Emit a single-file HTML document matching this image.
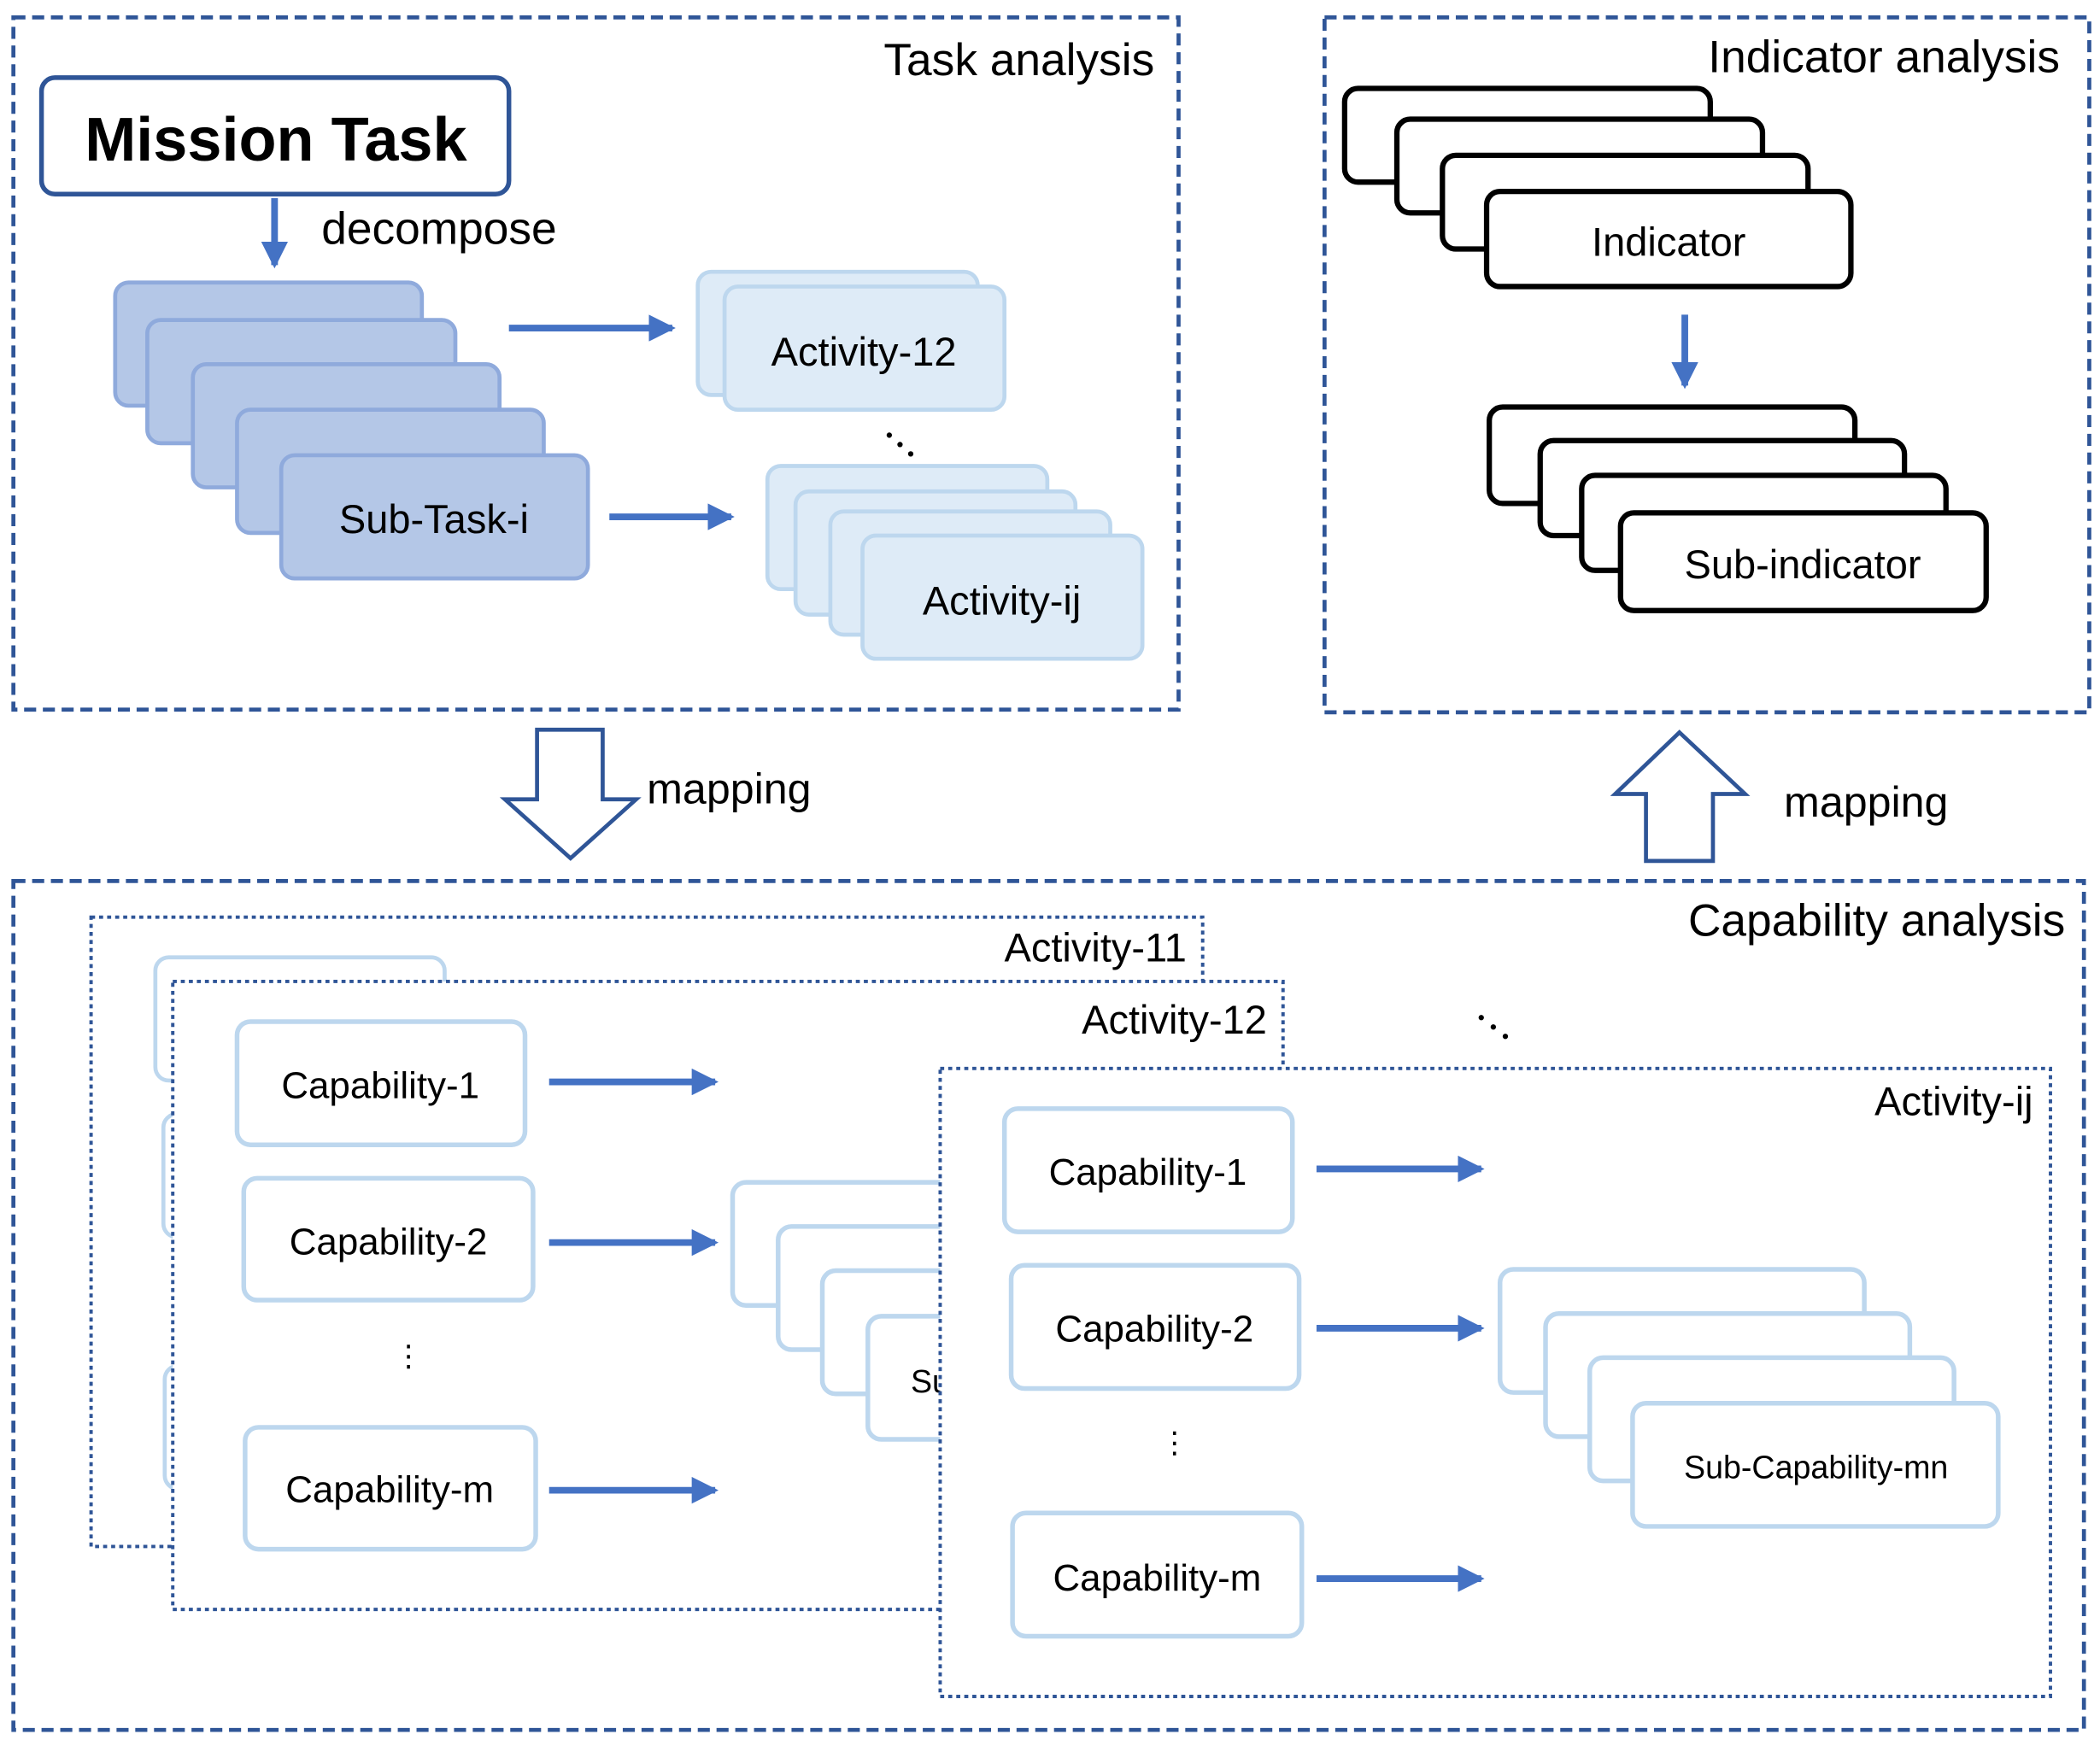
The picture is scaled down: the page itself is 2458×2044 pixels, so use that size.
<!DOCTYPE html>
<html><head><meta charset="utf-8"><style>
html,body{margin:0;padding:0;background:#fff;}
svg{display:block;}
text{font-family:"Liberation Sans","DejaVu Sans",sans-serif;}
</style></head><body>
<svg width="2458" height="2044" viewBox="0 0 1568 1304" preserveAspectRatio="none" xmlns="http://www.w3.org/2000/svg">
<defs>
<marker id="ah" markerWidth="4" markerHeight="4" refX="3.5" refY="2" orient="auto" markerUnits="strokeWidth">
<path d="M0,0 L4,2 L0,4 z" fill="#4472C4"/></marker>
</defs>
<g fill="none" stroke="#2F5597" stroke-width="3" stroke-dasharray="9,5">
<rect x="10" y="13" width="870" height="517"/>
<rect x="989" y="13" width="571" height="519"/>
<rect x="10" y="658" width="1546" height="634"/>
</g>
<g font-size="34" fill="#000" text-anchor="end">
<text x="862" y="56">Task analysis</text>
<text x="1538" y="54">Indicator analysis</text>
<text x="1542" y="699">Capability analysis</text>
</g>
<rect x="31" y="58" width="349" height="87" rx="10" fill="#fff" stroke="#2F5597" stroke-width="3.5"/>
<text x="206" y="120" font-size="46" font-weight="bold" text-anchor="middle">Mission Task</text>
<line x1="205" y1="148" x2="205" y2="198" stroke="#4472C4" stroke-width="5" marker-end="url(#ah)"/>
<text x="240" y="182" font-size="34">decompose</text>
<g fill="#B4C7E7" stroke="#8FAADC" stroke-width="3">
<rect x="86" y="211" width="229" height="92" rx="10"/>
<rect x="110" y="239" width="230" height="92" rx="10"/>
<rect x="144" y="272" width="229" height="92" rx="10"/>
<rect x="177" y="306" width="229" height="92" rx="10"/>
<rect x="210" y="340" width="229" height="92" rx="10"/>
</g>
<text x="324" y="398" font-size="30" text-anchor="middle">Sub-Task-i</text>
<g stroke="#4472C4" stroke-width="5">
<line x1="380" y1="245" x2="502" y2="245" marker-end="url(#ah)"/>
<line x1="455" y1="386" x2="546" y2="386" marker-end="url(#ah)"/>
</g>
<g fill="#DEEBF7" stroke="#BDD7EE" stroke-width="3">
<rect x="521" y="203" width="209" height="92" rx="10"/>
<rect x="541" y="214" width="209" height="92" rx="10"/>
<rect x="573" y="348" width="209" height="92" rx="10"/>
<rect x="594" y="367" width="209" height="92" rx="10"/>
<rect x="620" y="382" width="209" height="92" rx="10"/>
<rect x="644" y="400" width="209" height="92" rx="10"/>
</g>
<text x="645" y="273" font-size="30" text-anchor="middle">Activity-12</text>
<text x="748" y="459" font-size="30" text-anchor="middle">Activity-ij</text>
<g fill="#000"><circle cx="664" cy="325" r="2"/><circle cx="672" cy="332" r="2"/><circle cx="680" cy="339" r="2"/></g>
<g fill="#fff" stroke="#000" stroke-width="4">
<rect x="1004" y="66" width="273" height="70" rx="10"/>
<rect x="1043" y="89" width="273" height="70" rx="10"/>
<rect x="1077" y="116" width="273" height="70" rx="10"/>
<rect x="1110" y="143" width="272" height="71" rx="10"/>
<rect x="1112" y="304" width="273" height="72" rx="10"/>
<rect x="1150" y="329" width="272" height="71" rx="10"/>
<rect x="1181" y="355" width="272" height="71" rx="10"/>
<rect x="1210" y="383" width="273" height="73" rx="10"/>
</g>
<text x="1246" y="191" font-size="30" text-anchor="middle">Indicator</text>
<text x="1346" y="432" font-size="30" text-anchor="middle">Sub-indicator</text>
<line x1="1258" y1="235" x2="1258" y2="288" stroke="#4472C4" stroke-width="5" marker-end="url(#ah)"/>
<path d="M401,545 L450,545 L450,597 L475,597 L426,641 L377,597 L401,597 Z" fill="#fff" stroke="#2F5597" stroke-width="3"/>
<text x="483" y="600" font-size="32">mapping</text>
<path d="M1254,547 L1303,593 L1279,593 L1279,643 L1229,643 L1229,593 L1206,593 Z" fill="#fff" stroke="#2F5597" stroke-width="3"/>
<text x="1332" y="610" font-size="32">mapping</text>
<rect x="68" y="685" width="830" height="470" fill="#fff" stroke="#2F5597" stroke-width="2.5" stroke-dasharray="3,3"/>
<text x="886" y="718" font-size="30" text-anchor="end">Activity-11</text>
<g fill="#fff" stroke="#BDD7EE" stroke-width="3">
<rect x="116" y="715" width="216" height="92" rx="10"/>
<rect x="122" y="832" width="216" height="92" rx="10"/>
<rect x="123" y="1020" width="216" height="92" rx="10"/>
</g>
<rect x="129" y="733" width="829" height="469" fill="#fff" stroke="#2F5597" stroke-width="2.5" stroke-dasharray="3,3"/>
<text x="946" y="772" font-size="30" text-anchor="end">Activity-12</text>
<g fill="#fff" stroke="#BDD7EE" stroke-width="3.5">
<rect x="177" y="763" width="215" height="92" rx="10"/>
<rect x="182" y="880" width="216" height="91" rx="10"/>
<rect x="183" y="1066" width="217" height="91" rx="10"/>
<rect x="547" y="883" width="273" height="92" rx="10"/>
<rect x="581" y="916" width="273" height="92" rx="10"/>
<rect x="614" y="949" width="273" height="92" rx="10"/>
<rect x="648" y="983" width="273" height="92" rx="10"/>
</g>
<text x="680" y="1040" font-size="24">Sub-Capability-mn</text>
<g font-size="28" text-anchor="middle">
<text x="284" y="820">Capability-1</text>
<text x="290" y="937">Capability-2</text>
<text x="291" y="1122">Capability-m</text>
</g>
<text x="305" y="1020" font-size="22" text-anchor="middle">⋮</text>
<g stroke="#4472C4" stroke-width="5">
<line x1="410" y1="808" x2="534" y2="808" marker-end="url(#ah)"/>
<line x1="410" y1="928" x2="534" y2="928" marker-end="url(#ah)"/>
<line x1="410" y1="1113" x2="534" y2="1113" marker-end="url(#ah)"/>
</g>
<g fill="#000"><circle cx="1106" cy="760" r="2"/><circle cx="1115" cy="767" r="2"/><circle cx="1124" cy="774" r="2"/></g>
<rect x="702" y="798" width="829" height="469" fill="#fff" stroke="#2F5597" stroke-width="2.5" stroke-dasharray="3,3"/>
<text x="1518" y="833" font-size="30" text-anchor="end">Activity-ij</text>
<g fill="#fff" stroke="#BDD7EE" stroke-width="3.5">
<rect x="750" y="828" width="215" height="92" rx="10"/>
<rect x="755" y="945" width="215" height="92" rx="10"/>
<rect x="756" y="1130" width="216" height="92" rx="10"/>
<rect x="1120" y="948" width="272" height="92" rx="10"/>
<rect x="1154" y="981" width="272" height="92" rx="10"/>
<rect x="1187" y="1014" width="272" height="92" rx="10"/>
<rect x="1219" y="1048" width="273" height="92" rx="10"/>
</g>
<g font-size="28" text-anchor="middle">
<text x="857" y="885">Capability-1</text>
<text x="862" y="1002">Capability-2</text>
<text x="864" y="1188">Capability-m</text>
</g>
<text x="877" y="1085" font-size="22" text-anchor="middle">⋮</text>
<text x="1356" y="1104" font-size="24" text-anchor="middle">Sub-Capability-mn</text>
<g stroke="#4472C4" stroke-width="5">
<line x1="983" y1="873" x2="1106" y2="873" marker-end="url(#ah)"/>
<line x1="983" y1="992" x2="1106" y2="992" marker-end="url(#ah)"/>
<line x1="983" y1="1179" x2="1106" y2="1179" marker-end="url(#ah)"/>
</g>
</svg>
</body></html>
